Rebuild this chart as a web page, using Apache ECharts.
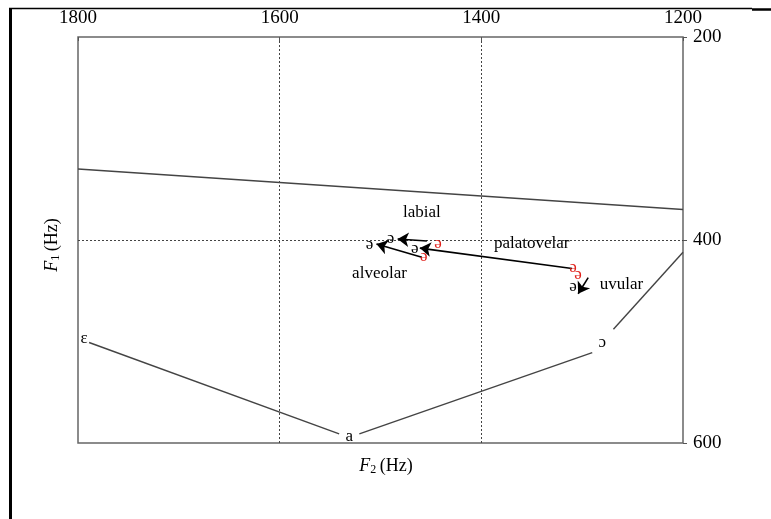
<!DOCTYPE html>
<html>
<head>
<meta charset="utf-8">
<script src="https://cdn.jsdelivr.net/npm/echarts@6/dist/echarts.min.js"></script>
<style>
html,body{margin:0;padding:0;background:#fff;}
#chart{width:771px;height:519px;}
</style>
</head>
<body>
<div id="chart"></div>
<script>
// ---- Data (F2 in Hz, F1 in Hz) ----
const f2Range = [1200, 1800];
const f1Range = [200, 600];
const tickInterval = 200;

// consonant-context labels
const contextNames = ['labial', 'alveolar', 'palatovelar', 'uvular'];
const contextLabelF2 = [1459, 1501, 1350, 1261];
const contextLabelF1 = [373, 433, 403, 444];

// onset (red) schwa positions
const onsetF2 = [1443, 1457, 1309, 1304];
const onsetF1 = [403, 416, 427, 434];
// target (black) schwa positions
const targetF2 = [1490, 1511, 1466, 1309];
const targetF1 = [399, 404, 408, 446];

// arrows: start -> end
const arrowStartF2 = [1454, 1459, 1310, 1294];
const arrowStartF1 = [401, 417, 428, 437];
const arrowEndF2 = [1483, 1504, 1461, 1304];
const arrowEndF1 = [399, 404, 408, 453];

// peripheral vowels
const vowelNames = ['ε', 'a', 'ɔ'];
const vowelF2 = [1794, 1531, 1280];
const vowelF1 = [497, 594, 501];

// vowel-space boundary segments
const segStartF2 = [1789, 1521, 1269, 1800];
const segStartF1 = [501, 591, 488, 330];
const segEndF2 = [1541, 1290, 1200, 1200];
const segEndF1 = [591, 511, 412, 370];

// ---- Build ----
const serif = '"Liberation Serif", "DejaVu Serif", serif';
const ink = '#000';
const chart = echarts.init(document.getElementById('chart'));

const segData = segStartF2.map((v, i) => ({ coords: [[v, segStartF1[i]], [segEndF2[i], segEndF1[i]]] }));
const arrowData = arrowStartF2.map((v, i) => ({ coords: [[v, arrowStartF1[i]], [arrowEndF2[i], arrowEndF1[i]]] }));
const textSeries = (names, xs, ys, color, size) => ({
  type: 'scatter',
  symbolSize: 0,
  silent: true,
  z: 5,
  itemStyle: { opacity: 1 },
  data: names.map((n, i) => ({ name: n, value: [xs[i], ys[i]] })),
  label: { show: true, position: 'inside', formatter: '{b}', color: color, opacity: 1, fontFamily: serif, fontSize: size }
});
const splitStyle = { show: true, showMinLine: false, showMaxLine: false, lineStyle: { color: '#444', type: [2, 2], width: 1 } };

chart.setOption({
  animation: false,
  backgroundColor: '#fff',
  grid: {
    left: 78, top: 37, right: 88, bottom: 76,
    show: true, borderColor: '#666', borderWidth: 1.5,
    outerBoundsMode: 'none'
  },
  xAxis: {
    type: 'value', position: 'top', inverse: true,
    min: f2Range[0], max: f2Range[1], interval: tickInterval,
    axisLine: { show: false },
    axisTick: { show: true, inside: true, length: 4, lineStyle: { color: '#555' } },
    axisLabel: { color: ink, fontFamily: serif, fontSize: 19, margin: 9, formatter: v => String(v) },
    splitLine: splitStyle
  },
  yAxis: {
    type: 'value', position: 'right', inverse: true,
    min: f1Range[0], max: f1Range[1], interval: tickInterval,
    axisLine: { show: false },
    axisTick: { show: true, inside: false, length: 4, lineStyle: { color: '#555' } },
    axisLabel: { color: ink, fontFamily: serif, fontSize: 19, margin: 10, formatter: v => String(v) },
    splitLine: splitStyle
  },
  series: [
    {
      type: 'lines', coordinateSystem: 'cartesian2d', silent: true,
      symbol: ['none', 'none'],
      lineStyle: { color: '#444', width: 1.4, opacity: 1 },
      data: segData
    },
    {
      type: 'lines', coordinateSystem: 'cartesian2d', silent: true,
      symbol: ['none', 'arrow'], symbolSize: 11,
      lineStyle: { color: '#000', width: 1.6, opacity: 1 },
      data: arrowData, z: 4
    },
    textSeries(contextNames, contextLabelF2, contextLabelF1, ink, 17),
    textSeries(onsetF2.map(() => 'ə'), onsetF2, onsetF1, '#e0201a', 17),
    textSeries(targetF2.map(() => 'ə'), targetF2, targetF1, ink, 17),
    textSeries(vowelNames, vowelF2, vowelF1, ink, 17)
  ],
  graphic: [
    { type: 'line', shape: { x1: 10.5, y1: 8, x2: 10.5, y2: 519 }, style: { stroke: '#000', lineWidth: 3 } },
    { type: 'line', shape: { x1: 9, y1: 8.5, x2: 752, y2: 8.5 }, style: { stroke: '#000', lineWidth: 1.5 } },
    { type: 'line', shape: { x1: 752, y1: 9.5, x2: 771, y2: 9.5 }, style: { stroke: '#000', lineWidth: 2.5 } },
    {
      type: 'text', x: 386, y: 466,
      style: {
        text: '{i|F}{s|2} {n|(Hz)}',
        align: 'center', verticalAlign: 'middle',
        rich: {
          i: { fontFamily: serif, fontStyle: 'italic', fontSize: 18, fill: ink, color: ink },
          s: { fontFamily: serif, fontSize: 12, verticalAlign: 'bottom', fill: ink, color: ink, padding: [8, 0, 0, 0] },
          n: { fontFamily: serif, fontSize: 18, fill: ink, color: ink }
        }
      }
    },
    {
      type: 'text', x: 52, y: 245, rotation: Math.PI / 2,
      style: {
        text: '{i|F}{s|1} {n|(Hz)}',
        align: 'center', verticalAlign: 'middle',
        rich: {
          i: { fontFamily: serif, fontStyle: 'italic', fontSize: 18, fill: ink, color: ink },
          s: { fontFamily: serif, fontSize: 12, verticalAlign: 'bottom', fill: ink, color: ink, padding: [8, 0, 0, 0] },
          n: { fontFamily: serif, fontSize: 18, fill: ink, color: ink }
        }
      }
    }
  ]
});
</script>
</body>
</html>
